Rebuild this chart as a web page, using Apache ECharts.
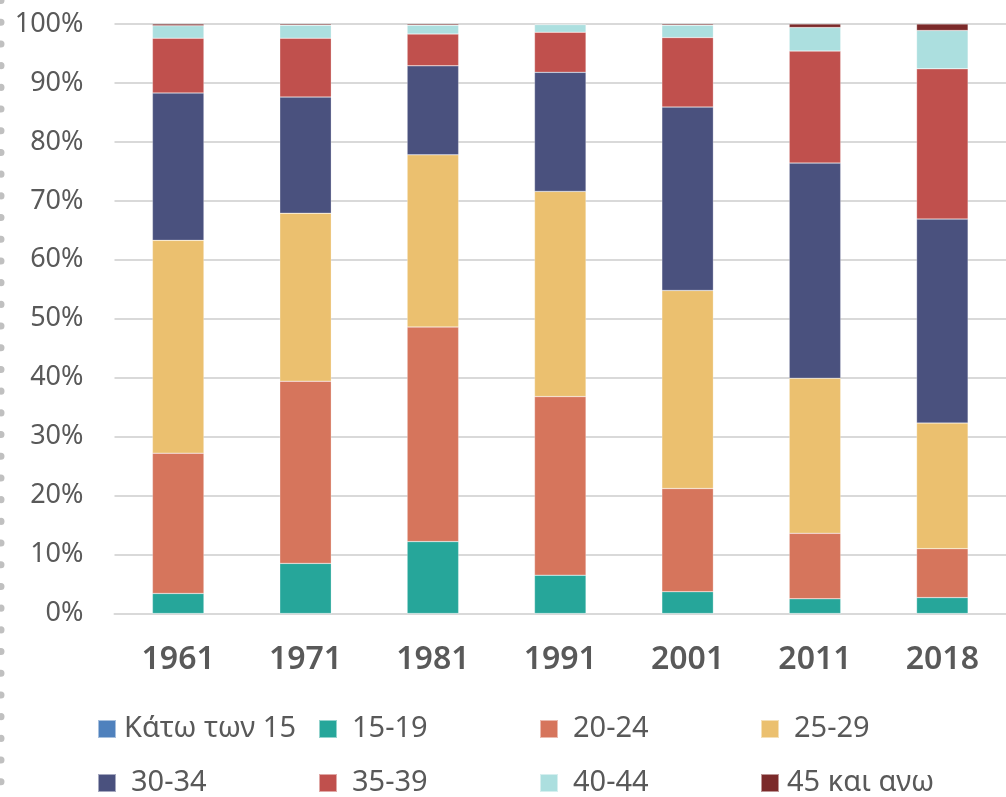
<!DOCTYPE html>
<html>
<head>
<meta charset="utf-8">
<script src="https://cdn.jsdelivr.net/npm/echarts@6/dist/echarts.min.js"></script>
<style>
  html, body { margin: 0; padding: 0; background: #fff; }
  #chart { width: 1006px; height: 797px; }
</style>
</head>
<body>
<div id="chart"></div>
<script>
// 年份
const years = ['1961', '1971', '1981', '1991', '2001', '2011', '2018'];
const yTicks = ['0%', '10%', '20%', '30%', '40%', '50%', '60%', '70%', '80%', '90%', '100%'];

// 各年龄组占比（%）
const under15 = [0, 0, 0, 0, 0, 0, 0];
const age15_19 = [3.4, 8.5, 12.2, 6.5, 3.7, 2.5, 2.7];
const age20_24 = [23.8, 30.9, 36.4, 30.3, 17.5, 11.1, 8.3];
const age25_29 = [36.1, 28.5, 29.2, 34.8, 33.6, 26.3, 21.3];
const age30_34 = [25.0, 19.7, 15.1, 20.2, 31.1, 36.5, 34.6];
const age35_39 = [9.3, 10.0, 5.4, 6.8, 11.8, 19.0, 25.5];
const age40_44 = [2.1, 2.2, 1.5, 1.3, 2.1, 4.0, 6.5];
const age45plus = [0.3, 0.2, 0.2, 0.1, 0.2, 0.6, 1.1];

const names = ['Κάτω των 15', '15-19', '20-24', '25-29', '30-34', '35-39', '40-44', '45 και ανω'];
const values = [under15, age15_19, age20_24, age25_29, age30_34, age35_39, age40_44, age45plus];
const colors = ['#4f81bd', '#26a69a', '#d6755c', '#ebc06f', '#4a517e', '#c0504d', '#acdfdf', '#7b2a2a'];
// 图例文字与色块的间距
const legendPad = [3, 10, 10, 10, 10, 10, 10, 3];

const chart = echarts.init(document.getElementById('chart'));

const option = {
  animation: false,
  backgroundColor: '#fff',
  color: colors,
  grid: { left: 114.5, top: 24, width: 902, height: 589.5 },
  xAxis: {
    type: 'category',
    data: years,
    axisLine: { lineStyle: { color: '#d9d9d9', width: 2 } },
    axisTick: { show: false },
    axisLabel: {
      color: '#595959', fontSize: 32, fontWeight: 600,
      fontFamily: 'Noto Sans', margin: 30
    }
  },
  yAxis: {
    type: 'value',
    min: 0,
    max: 100,
    interval: 10,
    axisLine: { show: false },
    axisTick: { show: false },
    splitLine: { lineStyle: { color: '#d9d9d9', width: 2 } },
    axisLabel: {
      color: '#595959', fontSize: 27, fontFamily: 'Noto Sans', margin: 31,
      formatter: v => yTicks[Math.round(v / 10)]
    }
  },
  legend: {
    left: 92,
    top: 697,
    width: 900,
    itemWidth: 18,
    itemHeight: 18,
    itemGap: 0,
    icon: 'rect',
    textStyle: { color: '#595959', fontSize: 29, fontFamily: 'Noto Sans', lineHeight: 54 },
    data: names.map((n, i) => ({
      name: n,
      textStyle: { padding: [0, 0, 0, legendPad[i]], width: 197 - legendPad[i] }
    }))
  },
  series: names.map((n, i) => ({
    name: n,
    type: 'bar',
    stack: 'total',
    barWidth: 51.5,
    itemStyle: { borderColor: 'rgba(255,255,255,0.5)', borderWidth: 0.5 },
    data: values[i]
  })),
  graphic: [{
    type: 'line',
    shape: { x1: 1, y1: 0.5, x2: 1, y2: 797 },
    style: { stroke: '#c0c0c0', lineWidth: 7, lineCap: 'round', lineDash: [0.1, 21.6] },
    silent: true
  }]
};

chart.setOption(option);
</script>
</body>
</html>
